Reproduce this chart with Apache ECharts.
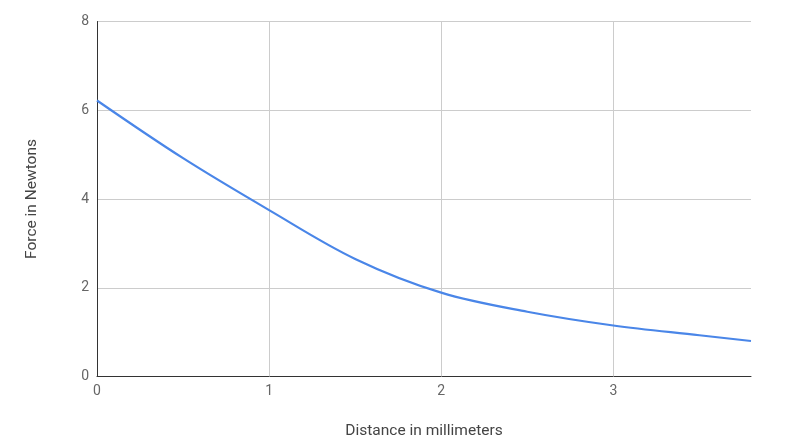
<!DOCTYPE html>
<html><head><meta charset="utf-8">
<script src="https://cdn.jsdelivr.net/npm/echarts@6/dist/echarts.min.js"></script>
<style>html,body{margin:0;padding:0;background:#fff}#c{width:791px;height:446px}</style>
</head><body><div id="c"></div>
<script>
const distance = [0, 0.5, 1, 1.5, 2, 2.5, 3, 3.5, 3.8];
const force = [6.22, 4.92, 3.75, 2.65, 1.89, 1.46, 1.15, 0.93, 0.80];
const xGridTicks = [1, 2, 3];
const xTitle = 'Distance in millimeters';
const yTitle = 'Force in Newtons';

const chart = echarts.init(document.getElementById('c'));
chart.setOption({
  animation: false,
  grid: {left: 97, right: 40, top: 21.5, bottom: 69.5},
  xAxis: {
    type: 'value', min: 0, max: 3.8, interval: 1,
    name: xTitle, nameLocation: 'middle', nameGap: 47,
    nameTextStyle: {color: '#444', fontSize: 15.5, fontFamily: 'Roboto'},
    axisLine: {show: true, lineStyle: {color: '#333', width: 1}},
    axisTick: {show: false},
    axisLabel: {color: '#666', fontSize: 14, fontFamily: 'Roboto', margin: 8, showMaxLabel: false},
    splitLine: {show: false}
  },
  yAxis: {
    type: 'value', min: 0, max: 8, interval: 2,
    name: yTitle, nameLocation: 'middle', nameGap: 57,
    nameTextStyle: {color: '#444', fontSize: 15.5, fontFamily: 'Roboto'},
    axisLine: {show: true, lineStyle: {color: '#333', width: 1}},
    axisTick: {show: false},
    axisLabel: {color: '#666', fontSize: 14, fontFamily: 'Roboto', margin: 8},
    splitLine: {show: true, lineStyle: {color: '#ccc', width: 1}}
  },
  series: [{
    type: 'line', smooth: 0.35, showSymbol: false, z: 3,
    data: distance.map((d, i) => [d, force[i]]),
    lineStyle: {color: '#4a86e8', width: 2.2},
    markLine: {
      silent: true, symbol: 'none', label: {show: false}, z: 1,
      lineStyle: {color: '#ccc', width: 1, type: 'solid'},
      data: xGridTicks.map(v => ({xAxis: v}))
    }
  }]
});
</script></body></html>
